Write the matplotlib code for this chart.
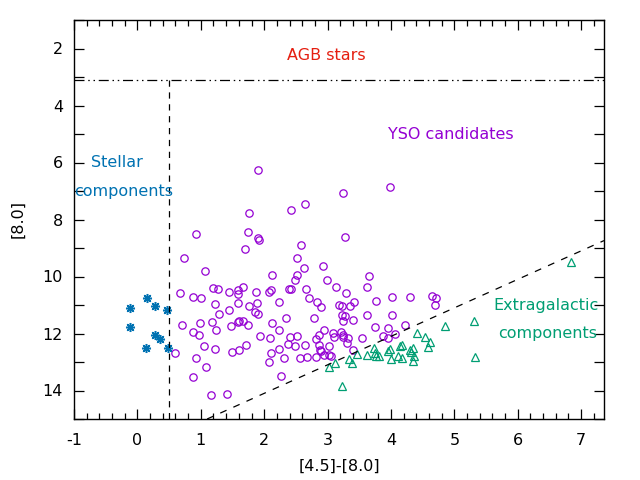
import numpy as np
import matplotlib
matplotlib.use('Agg')
import matplotlib.pyplot as plt
from matplotlib.ticker import MultipleLocator

# stellar components ([4.5]-[8.0], [8.0])
star_x = [0.15, -0.11, 0.27, 0.46, -0.12, 0.27, 0.35, 0.13, 0.48]
star_y = [10.75, 11.10, 11.03, 11.16, 11.77, 12.05, 12.19, 12.50, 12.50]

# YSO candidates
yso_x = [1.91, 2.64, 2.43, 1.76, 0.92, 1.74, 1.90, 1.92, 2.58, 1.69,
         0.73, 2.51, 1.06, 2.63, 2.13, 2.51, 2.48,
         3.98, 3.24, 3.27, 2.92, 2.99, 3.66,
         0.67, 1.19, 1.27, 0.87, 1.00, 1.44, 1.58, 1.67, 1.59, 1.87,
         2.07, 2.11, 2.39, 2.43, 2.66, 1.22, 1.58, 1.88, 1.76, 2.24,
         2.71, 1.44, 1.28, 1.86, 1.91, 0.71, 0.98, 1.17, 1.59, 1.61,
         1.67, 1.74, 1.47, 1.24, 0.87, 0.97, 2.13, 2.34, 2.24, 1.94,
         2.09, 2.40, 2.51, 2.37, 2.48, 2.64, 1.05, 1.22, 1.72, 1.61,
         1.49, 0.59, 2.24, 2.10, 0.92, 2.32, 2.56, 2.67, 2.07, 1.08,
         0.87, 2.26, 1.16, 1.41,
         3.14, 3.29, 3.62, 2.84, 2.89, 3.18, 3.22, 3.35, 3.41, 3.76,
         4.01, 4.30, 4.64, 4.71, 4.69, 2.78, 3.22, 3.27, 3.25, 3.40,
         3.62, 4.01, 3.74, 3.95, 4.22, 4.06, 2.95, 2.86, 2.81, 3.08,
         3.10, 3.21, 3.24, 3.25, 3.32, 3.30, 3.54, 3.88, 3.96, 2.86,
         3.02, 2.88, 2.89, 2.81, 2.94, 3.03, 3.05, 3.40]
yso_y = [6.26, 7.45, 7.66, 7.77, 8.50, 8.43, 8.64, 8.71, 8.89, 9.03,
         9.34, 9.34, 9.80, 9.70, 9.94, 9.94, 10.13,
         6.85, 7.06, 8.61, 9.62, 10.12, 9.98,
         10.57, 10.41, 10.43, 10.71, 10.75, 10.53, 10.47, 10.38, 10.63, 10.53,
         10.54, 10.47, 10.43, 10.43, 10.43, 10.96, 10.92, 10.92, 11.03, 10.89,
         10.75, 11.17, 11.31, 11.24, 11.31, 11.70, 11.63, 11.59, 11.59, 11.55,
         11.55, 11.70, 11.73, 11.87, 11.94, 12.05, 11.63, 11.45, 11.87, 12.08,
         12.15, 12.12, 12.08, 12.36, 12.43, 12.40, 12.43, 12.54, 12.40, 12.57,
         12.64, 12.68, 12.54, 12.68, 12.85, 12.85, 12.85, 12.82, 12.99, 13.17,
         13.52, 13.48, 14.15, 14.12,
         10.36, 10.57, 10.36, 10.89, 11.06, 10.99, 11.03, 11.03, 10.89, 10.85,
         10.71, 10.71, 10.68, 10.75, 10.99, 11.45, 11.34, 11.38, 11.55, 11.52,
         11.34, 11.34, 11.77, 11.80, 11.69, 12.01, 11.87, 12.05, 12.19, 11.98,
         12.12, 11.94, 12.05, 12.12, 12.15, 12.33, 12.15, 12.08, 12.15, 12.40,
         12.43, 12.57, 12.61, 12.82, 12.75, 12.75, 12.78, 12.57]

# extragalactic components
gal_x = [4.85, 4.41, 4.53, 4.61, 4.58, 4.17, 4.14, 4.34, 4.30, 4.31,
         4.37, 4.34, 4.18, 4.11, 4.00, 3.98, 3.96, 3.73, 3.74, 3.76,
         3.81, 3.62, 3.46, 3.33, 3.38, 3.11, 3.02, 3.22, 5.31, 5.32, 6.84]
gal_y = [11.73, 11.98, 12.12, 12.29, 12.47, 12.40, 12.43, 12.50, 12.57, 12.64,
         12.78, 12.96, 12.85, 12.78, 12.91, 12.54, 12.61, 12.50, 12.68, 12.78,
         12.78, 12.75, 12.71, 12.89, 13.03, 13.03, 13.17, 13.84, 11.57, 12.83, 9.50]

# selection limits
agb_limit = 3.1
color_limit = 0.5
gal_const = 16.1   # [8.0] = 16.1 - ([4.5]-[8.0])

xmin, xmax = -1, 7.36
ymin, ymax = 1, 15

purple = '#9400d3'
green = '#009e73'
blue = '#0072b2'
red = '#e51e10'

plt.rcParams['font.family'] = 'DejaVu Sans'
plt.rcParams['font.size'] = 11.5

fig = plt.figure(figsize=(6.4, 4.8), dpi=100)
ax = fig.add_axes([74/640, 1-419/480, (604-74)/640, (419-20)/480])

ax.plot(yso_x, yso_y, 'o', mfc='none', mec=purple, ms=5.3, mew=0.9)
ax.plot(gal_x, gal_y, '^', mfc='none', mec=green, ms=5.3, mew=0.9)
ax.plot(star_x, star_y, marker=(8, 2, 0), ls='none', mec=blue, ms=6.5, mew=1.1)

# limit lines
ax.axhline(agb_limit, color='black', lw=0.9, ls=(0, (8, 3, 1.2, 3, 1.2, 3)))
ax.plot([color_limit, color_limit], [agb_limit, ymax], color='black', lw=0.9, ls=(0, (5, 4.5)))
lx = np.array([gal_const - ymax, xmax])
ax.plot(lx, gal_const - lx, color='black', lw=0.9, ls=(0, (5.5, 6)))

ax.text(2.98, 2.25, 'AGB stars', color=red, ha='center', va='center')
ax.text(4.95, 5.02, 'YSO candidates', color=purple, ha='center', va='center')
ax.text(-0.32, 6.0, 'Stellar', color=blue, ha='center', va='center')
ax.text(-0.22, 7.02, 'components', color=blue, ha='center', va='center')
ax.text(6.44, 11.02, 'Extragalactic', color=green, ha='center', va='center')
ax.text(6.47, 12.0, 'components', color=green, ha='center', va='center')

ax.set_xlim(xmin, xmax)
ax.set_ylim(ymax, ymin)
ax.xaxis.set_major_locator(MultipleLocator(1))
ax.xaxis.set_minor_locator(MultipleLocator(0.2))
ax.yaxis.set_major_locator(MultipleLocator(2))
ax.yaxis.set_minor_locator(MultipleLocator(1))
ax.tick_params(which='both', direction='in', top=True, right=True, width=0.9)
ax.tick_params(axis='x', which='major', length=7, pad=10)
ax.tick_params(axis='x', which='minor', length=4)
ax.tick_params(axis='y', which='both', length=7, pad=8)
ax.set_xticks(range(-1, 8))
ax.set_xticklabels([str(v) for v in range(-1, 8)])
for s in ax.spines.values():
    s.set_linewidth(1.0)

ax.set_xlabel('[4.5]-[8.0]', labelpad=8)
ax.set_ylabel('[8.0]', labelpad=12)

fig.savefig('out.png', dpi=100)
